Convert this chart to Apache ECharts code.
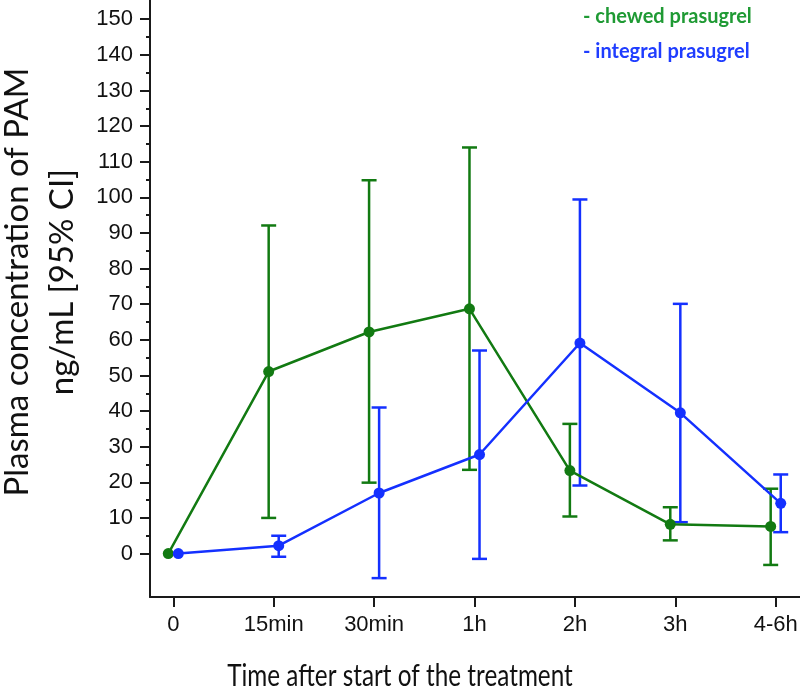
<!DOCTYPE html>
<html>
<head>
<meta charset="utf-8">
<script src="https://cdn.jsdelivr.net/npm/echarts@6/dist/echarts.min.js"></script>
<style>html,body{margin:0;padding:0;background:#fff}#c{width:800px;height:689px}</style>
</head>
<body>
<div id="c"></div>
<script>
const categories = ['0', '15min', '30min', '1h', '2h', '3h', '4-6h'];
const chewedMean = [0, 51.1, 62.2, 68.7, 23.3, 8.2, 7.6];
const chewedLow  = [null, 10.0, 19.9, 23.5, 10.4, 3.7, -3.2];
const chewedHigh = [null, 92.1, 104.8, 114.0, 36.4, 13.0, 18.2];
const integralMean = [0, 2.2, 17.0, 27.8, 59.1, 39.5, 14.1];
const integralLow  = [null, -0.9, -6.9, -1.5, 19.1, 8.8, 6.0];
const integralHigh = [null, 5.0, 41.0, 57.0, 99.4, 70.1, 22.2];
const yTickLabels = [0, 10, 20, 30, 40, 50, 60, 70, 80, 90, 100, 110, 120, 130, 140, 150];
const yMinorTicks = [5, 15, 25, 35, 45, 55, 65, 75, 85, 95, 105, 115, 125, 135, 145];

const GREEN = '#127a12';
const BLUE = '#1430ff';
const OFFSET = 0.05;

function pts(arr, off) { return arr.map((v, i) => [i + off, v]); }
function bars(lo, hi, off) {
  const out = [];
  lo.forEach((l, i) => { if (l !== null && hi[i] !== null) out.push([i + off, l, hi[i]]); });
  return out;
}
function errRender(color) {
  return function (params, api) {
    const x = api.value(0);
    const p1 = api.coord([x, api.value(1)]);
    const p2 = api.coord([x, api.value(2)]);
    const hw = 7.5;
    const st = { stroke: color, lineWidth: 2.5 };
    return {
      type: 'group',
      children: [
        { type: 'line', shape: { x1: p1[0], y1: p1[1], x2: p2[0], y2: p2[1] }, style: st },
        { type: 'line', shape: { x1: p1[0] - hw, y1: p1[1], x2: p1[0] + hw, y2: p1[1] }, style: st },
        { type: 'line', shape: { x1: p2[0] - hw, y1: p2[1], x2: p2[0] + hw, y2: p2[1] }, style: st }
      ]
    };
  };
}

const chart = echarts.init(document.getElementById('c'), null, { renderer: 'canvas' });
const axisLineStyle = { color: '#1a1a1a', width: 2 };
const labelStyle = { fontFamily: 'Liberation Sans', fontSize: 22, color: '#111' };
const yCommon = {
  type: 'value', min: -12.2, max: 155.4, position: 'left',
  splitLine: { show: false }
};
chart.setOption({
  animation: false,
  backgroundColor: '#fff',
  grid: { left: 150, right: 0, top: 0, bottom: 92, containLabel: false, outerBoundsMode: 'none' },
  xAxis: {
    type: 'value', min: -0.232, max: 6.242,
    splitLine: { show: false },
    axisLine: { show: true, onZero: false, lineStyle: axisLineStyle },
    axisTick: { show: true, length: 10, inside: false, lineStyle: axisLineStyle, customValues: [0, 1, 2, 3, 4, 5, 6] },
    axisLabel: Object.assign({
      customValues: [0, 1, 2, 3, 4, 5, 6], margin: 17,
      formatter: v => categories[Math.round(v)]
    }, labelStyle)
  },
  yAxis: [
    Object.assign({}, yCommon, {
      axisLine: { show: true, onZero: false, lineStyle: axisLineStyle },
      axisTick: { show: true, length: 10, lineStyle: axisLineStyle, customValues: yTickLabels },
      axisLabel: Object.assign({ customValues: yTickLabels, margin: 17 }, labelStyle)
    }),
    Object.assign({}, yCommon, {
      axisLine: { show: false, onZero: false },
      axisTick: { show: true, length: 4, lineStyle: axisLineStyle, customValues: yMinorTicks },
      axisLabel: { show: false, customValues: yMinorTicks }
    })
  ],
  graphic: [
    { type: 'text', x: 583, y: 17, style: { text: '- chewed prasugrel', fill: '#1f9a34', font: 'bold 20px Lato', verticalAlign: 'middle' } },
    { type: 'text', x: 583, y: 52, style: { text: '- integral prasugrel', fill: '#1f3dff', font: 'bold 20px Lato', verticalAlign: 'middle' } },
    { type: 'text', x: 400, y: 676, scaleX: 0.81, style: { text: 'Time after start of the treatment', fill: '#111', font: '30px Lato', align: 'center', verticalAlign: 'middle' } },
    { type: 'text', x: 17, y: 282, rotation: Math.PI / 2, style: { text: 'Plasma concentration of PAM', fill: '#111', font: '33px Lato', align: 'center', verticalAlign: 'middle' } },
    { type: 'text', x: 62, y: 282, rotation: Math.PI / 2, style: { text: 'ng/mL [95% CI]', fill: '#111', font: '33px Lato', align: 'center', verticalAlign: 'middle' } }
  ],
  series: [
    { type: 'custom', name: 'chewed err', renderItem: errRender(GREEN), data: bars(chewedLow, chewedHigh, -OFFSET), encode: { x: 0, y: [1, 2] }, z: 3 },
    { type: 'custom', name: 'integral err', renderItem: errRender(BLUE), data: bars(integralLow, integralHigh, OFFSET), encode: { x: 0, y: [1, 2] }, z: 3 },
    { type: 'line', name: 'chewed prasugrel', data: pts(chewedMean, -OFFSET), symbol: 'circle', symbolSize: 11, lineStyle: { color: GREEN, width: 2.5 }, itemStyle: { color: GREEN }, z: 4 },
    { type: 'line', name: 'integral prasugrel', data: pts(integralMean, OFFSET), symbol: 'circle', symbolSize: 11, lineStyle: { color: BLUE, width: 2.5 }, itemStyle: { color: BLUE }, z: 4 }
  ]
});
</script>
</body>
</html>
